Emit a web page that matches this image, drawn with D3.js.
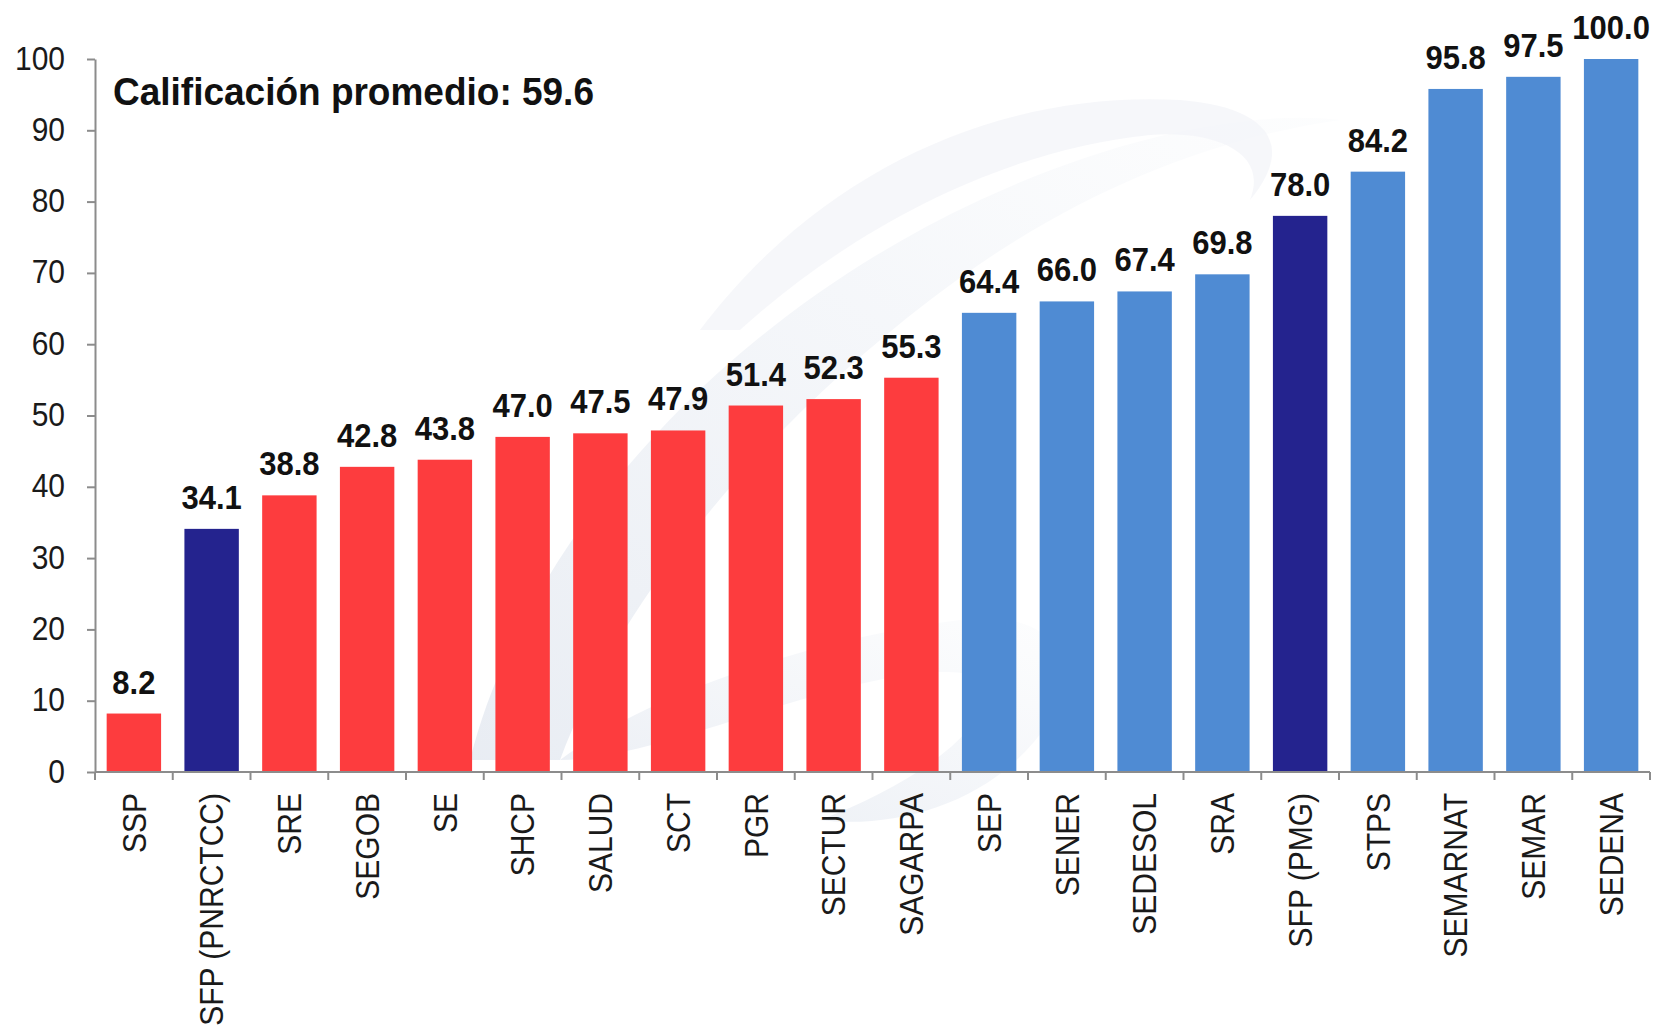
<!DOCTYPE html>
<html>
<head>
<meta charset="utf-8">
<script src="https://cdn.jsdelivr.net/npm/d3@7"></script>
<style>
  html, body { margin: 0; padding: 0; background: #fff; }
  svg { display: block; }
  text { font-family: "Liberation Sans", Arial, sans-serif; }
</style>
</head>
<body>
<svg id="chart" width="1656" height="1026"></svg>
<script>
var categories = ['SSP', 'SFP (PNRCTCC)', 'SRE', 'SEGOB', 'SE', 'SHCP', 'SALUD', 'SCT', 'PGR', 'SECTUR',
  'SAGARPA', 'SEP', 'SENER', 'SEDESOL', 'SRA', 'SFP (PMG)', 'STPS', 'SEMARNAT', 'SEMAR', 'SEDENA'];
var scores = [8.2, 34.1, 38.8, 42.8, 43.8, 47.0, 47.5, 47.9, 51.4, 52.3,
  55.3, 64.4, 66.0, 67.4, 69.8, 78.0, 84.2, 95.8, 97.5, 100.0];
// grupo: 'bajo' (rojo), 'sfp' (azul oscuro), 'alto' (azul)
var groups = ['bajo', 'sfp', 'bajo', 'bajo', 'bajo', 'bajo', 'bajo', 'bajo', 'bajo', 'bajo',
  'bajo', 'alto', 'alto', 'alto', 'alto', 'sfp', 'alto', 'alto', 'alto', 'alto'];
var yTicks = [0, 10, 20, 30, 40, 50, 60, 70, 80, 90, 100];
var title = 'Calificación promedio: 59.6';

var colors = { bajo: '#fd3c3e', sfp: '#24238e', alto: '#4f8bd3' };

var svg = d3.select('#chart');
var X0 = 95, X1 = 1650, Y0 = 772, Y1 = 59;

var x = d3.scaleBand()
    .domain(categories)
    .range([X0, X1])
    .paddingInner(0.3)
    .paddingOuter(0.15);

var y = d3.scaleLinear().domain([0, 100]).range([Y0, Y1]);

// marca de agua tenue al fondo
var defs = svg.append('defs');
var grad = defs.append('linearGradient').attr('id', 'wm')
    .attr('x1', '0%').attr('y1', '100%').attr('x2', '100%').attr('y2', '0%');
grad.append('stop').attr('offset', '0%').attr('stop-color', '#e3e8f0').attr('stop-opacity', 0.8);
grad.append('stop').attr('offset', '60%').attr('stop-color', '#eff2f7').attr('stop-opacity', 0.6);
grad.append('stop').attr('offset', '100%').attr('stop-color', '#f7f9fb').attr('stop-opacity', 0.3);

svg.append('path')
    .attr('d', 'M470,760 C520,560 700,330 980,200 C1120,135 1250,110 1340,120 ' +
      'C1200,140 1060,200 930,300 C760,430 620,600 560,760 Z')
    .attr('fill', 'url(#wm)');
svg.append('path')
    .attr('d', 'M560,760 C640,700 800,640 960,620 C1040,612 1080,640 1050,720 ' +
      'C1000,800 900,830 820,820 C900,790 980,740 990,690 C980,660 900,670 800,700 C700,730 620,760 560,760 Z')
    .attr('fill', 'url(#wm)');
svg.append('path')
    .attr('d', 'M700,330 C820,170 1000,90 1180,100 C1260,106 1300,140 1250,200 ' +
      'C1270,150 1210,130 1150,135 C1000,150 850,230 740,330 Z')
    .attr('fill', '#f2f4f8').attr('opacity', 0.7);

// título
svg.append('text')
    .attr('transform', 'translate(113,105) scale(1,1.04)')
    .attr('font-size', 37)
    .attr('font-weight', 'bold')
    .attr('fill', '#111')
    .text(title);

// barras
svg.append('g')
  .selectAll('rect')
  .data(categories)
  .enter().append('rect')
    .attr('x', function (d) { return x(d); })
    .attr('y', function (d, i) { return y(scores[i]); })
    .attr('width', x.bandwidth())
    .attr('height', function (d, i) { return Y0 - y(scores[i]); })
    .attr('fill', function (d, i) { return colors[groups[i]]; });

// etiquetas de valor
svg.append('g')
  .selectAll('text')
  .data(categories)
  .enter().append('text')
    .attr('transform', function (d, i) {
      return 'translate(' + (x(d) + x.bandwidth() / 2) + ',' + (y(scores[i]) - 20) + ') scale(1,1.08)';
    })
    .attr('text-anchor', 'middle')
    .attr('font-size', 31)
    .attr('font-weight', 'bold')
    .attr('fill', '#111')
    .text(function (d, i) { return scores[i].toFixed(1); });

// eje Y
var yAxis = d3.axisLeft(y)
    .tickValues(yTicks)
    .tickSizeInner(8)
    .tickSizeOuter(0)
    .tickPadding(22);

var gy = svg.append('g')
    .attr('transform', 'translate(' + X0 + ',0)')
    .call(yAxis);
gy.select('.domain').attr('stroke', '#8c8c8c').attr('stroke-width', 2);
gy.selectAll('.tick line').attr('stroke', '#8c8c8c').attr('stroke-width', 2);
gy.selectAll('.tick text')
    .attr('transform', 'scale(1,1.12)')
    .attr('dy', '0.3em')
    .attr('font-size', 30)
    .attr('font-family', '"Liberation Sans", Arial, sans-serif')
    .attr('fill', '#1a1a1a');

// eje X: línea, marcas en los límites de cada categoría
var step = x.step();
var bounds = categories.map(function (d) { return x(d) - step * 0.15; }).concat([X1]);

var gx = svg.append('g');
gx.append('line')
    .attr('x1', X0).attr('x2', X1)
    .attr('y1', Y0).attr('y2', Y0)
    .attr('stroke', '#8c8c8c').attr('stroke-width', 2);
gx.selectAll('line.tk')
  .data(bounds)
  .enter().append('line')
    .attr('class', 'tk')
    .attr('x1', function (d) { return d; })
    .attr('x2', function (d) { return d; })
    .attr('y1', Y0).attr('y2', Y0 + 8)
    .attr('stroke', '#8c8c8c').attr('stroke-width', 2);

gx.selectAll('text')
  .data(categories)
  .enter().append('text')
    .attr('transform', function (d) {
      return 'translate(' + (x(d) + x.bandwidth() / 2) + ',' + (Y0 + 21) + ') rotate(-90) scale(1,1.08)';
    })
    .attr('text-anchor', 'end')
    .attr('dy', '0.36em')
    .attr('font-size', 30)
    .attr('fill', '#1a1a1a')
    .text(function (d) { return d; });
</script>
</body>
</html>
